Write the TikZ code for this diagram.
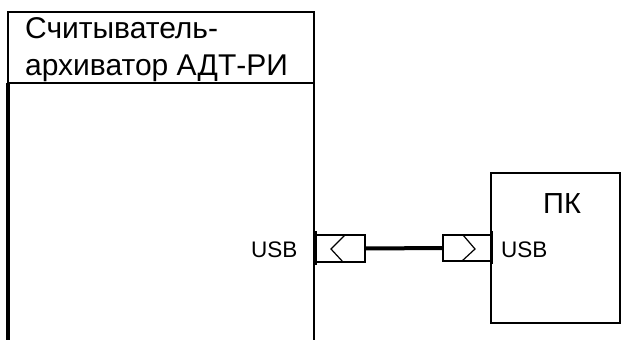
\documentclass[tikz,border=0pt]{standalone}
\usepackage{fontspec}
\setmainfont{Liberation Sans}
\begin{document}
\begin{tikzpicture}[x=1pt,y=-1pt,
  frame/.style={draw=black,line width=2pt,inner sep=0pt,outer sep=0pt,anchor=north west},
  plug/.style={draw=black,line width=2pt,inner sep=0pt,outer sep=0pt,anchor=north west,fill=white},
  lbl/.style={inner sep=0pt,anchor=base west,font=\fontsize{22.5}{22.5}\selectfont},
  ttl/.style={inner sep=0pt,anchor=base west,font=\fontsize{30}{30}\selectfont},
  cable/.style={draw=black,line width=4pt}]
\useasboundingbox (0,0) rectangle (622,340);
\begin{scope}
\clip (0,0) rectangle (622,340);
% reader box
\node[frame,minimum width=306pt,minimum height=345pt] (reader) at (8,12) {};
\coordinate (hl) at (8,83);
\coordinate (hr) at (314,83);
\draw[line width=2pt] (hl) -- (hr);
\draw[line width=3.5pt] (8,83) -- (8,345);
% PC box
\node[frame,minimum width=129pt,minimum height=150pt] (pc) at (491,173) {};
\draw[line width=2.5pt] (491,173) -- (491,323);
\end{scope}
% title
\node[ttl] (t1) at (25,38) {Считыватель-};
\node[ttl] (t2) at (25,75) {архиватор АДТ-РИ};
\node[inner sep=0pt,anchor=base west,font=\fontsize{29}{29}\selectfont] (pk) at (543,213) {ПК};
% connectors
\node[plug,minimum width=50pt,minimum height=27pt] (usbA) at (315,235) {};
\node[plug,minimum width=48pt,minimum height=26pt] (usbB) at (443,235) {};
\draw[line width=1.2pt] (345,235) -- (331,249) -- (343,262);
\draw[line width=1.2pt] (463,235) -- (475,249) -- (462,261);
\draw[cable] (usbA.east) -- (usbB.west);
\draw[line width=3.5pt] (315,231) -- (315,265);
\draw[line width=3pt] (491,231) -- (491,264);
% labels
\node[lbl] (la) at (251,257) {USB};
\node[lbl] (lb) at (501,257) {USB};
\end{tikzpicture}
\end{document}
